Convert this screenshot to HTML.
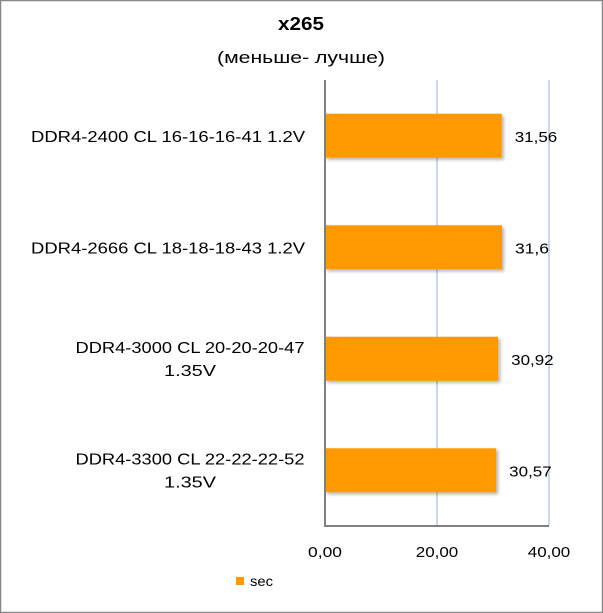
<!DOCTYPE html>
<html><head><meta charset="utf-8"><style>
body{margin:0;background:#fff}
svg{display:block;font-family:"Liberation Sans",sans-serif}
</style></head><body>
<svg width="603" height="613">
<defs><filter id="sh" x="-5%" y="-5%" width="115%" height="130%"><feDropShadow dx="2" dy="2" stdDeviation="1.5" flood-color="#000" flood-opacity="0.3"/></filter></defs>
<rect x="0.5" y="0.5" width="602" height="612" fill="#fff" stroke="#888" stroke-width="1.5"/>
<text x="301" y="30" text-anchor="middle" font-size="18" font-weight="bold" fill="#000" textLength="46" lengthAdjust="spacingAndGlyphs">x265</text>
<text x="301" y="63" text-anchor="middle" font-size="17" fill="#000" textLength="168" lengthAdjust="spacingAndGlyphs">(меньше- лучше)</text>
<g id="plot"></g>
<rect x="236" y="577" width="8" height="8" fill="#ff9900"/>
<text x="250" y="586" font-size="14" fill="#000" textLength="23" lengthAdjust="spacingAndGlyphs">sec</text>
</svg>
<script>
const categories=[["DDR4-2400 CL 16-16-16-41 1.2V"],["DDR4-2666 CL 18-18-18-43 1.2V"],["DDR4-3000 CL 20-20-20-47","1.35V"],["DDR4-3300 CL 22-22-22-52","1.35V"]];
const values=[31.56,31.6,30.92,30.57];
const labels=["31,56","31,6","30,92","30,57"];
const ticks=[0,20,40];
const tickLabels=["0,00","20,00","40,00"];
const NS="http://www.w3.org/2000/svg";
const g=document.getElementById("plot");
const X0=325,X1=549,XMAX=40,Y0=80,Y1=526;
const x=v=>X0+(v/XMAX)*(X1-X0);
const band=(Y1-Y0)/categories.length;
function mk(t,a,p){const e=document.createElementNS(NS,t);for(const k in a)e.setAttribute(k,a[k]);(p||g).appendChild(e);return e;}
function fit(el,w){el.setAttribute("textLength",w);el.setAttribute("lengthAdjust","spacingAndGlyphs");}
ticks.forEach((t,i)=>{
 if(t>0){const l=mk("line",{x1:x(t),x2:x(t),y1:Y0,y2:Y1,stroke:"#b8c9e4","stroke-width":1.5});
 
 }
 const tx=mk("text",{x:x(t),y:557,"text-anchor":"middle","font-size":"15",fill:"#000"});tx.textContent=tickLabels[i];
 fit(tx,tickLabels[i].length*8.5);
 
 
});
values.forEach((v,i)=>{
 const cy=Y0+band*i+band/2;
 const r=mk("rect",{x:X0,y:cy-22,width:x(v)-X0,height:44,fill:"#ff9900",filter:"url(#sh)"});
 
 
 const t=mk("text",{x:x(v)+13,y:cy+6,"font-size":"15",fill:"#000"});t.textContent=labels[i];
 fit(t,labels[i].length*8.5);
 
 
 const lines=categories[i];
 lines.forEach((s,j)=>{
  let c;
  if(lines.length===1){
   c=mk("text",{x:305,y:cy+6,"text-anchor":"end","font-size":"16",fill:"#000"});
   c.textContent=s;fit(c,274);
  }else{
   c=mk("text",{x:190,y:cy-6+j*23,"text-anchor":"middle","font-size":"16",fill:"#000"});
   c.textContent=s;fit(c,j===0?229:52);
  }
  
  
 });
});
const ax=mk("line",{x1:X0,x2:X0,y1:Y0,y2:Y1,stroke:"#808080","stroke-width":2});


const bx=mk("line",{x1:X0-1,x2:X1,y1:Y1,y2:Y1,stroke:"#808080","stroke-width":2});


</script>
</body></html>
